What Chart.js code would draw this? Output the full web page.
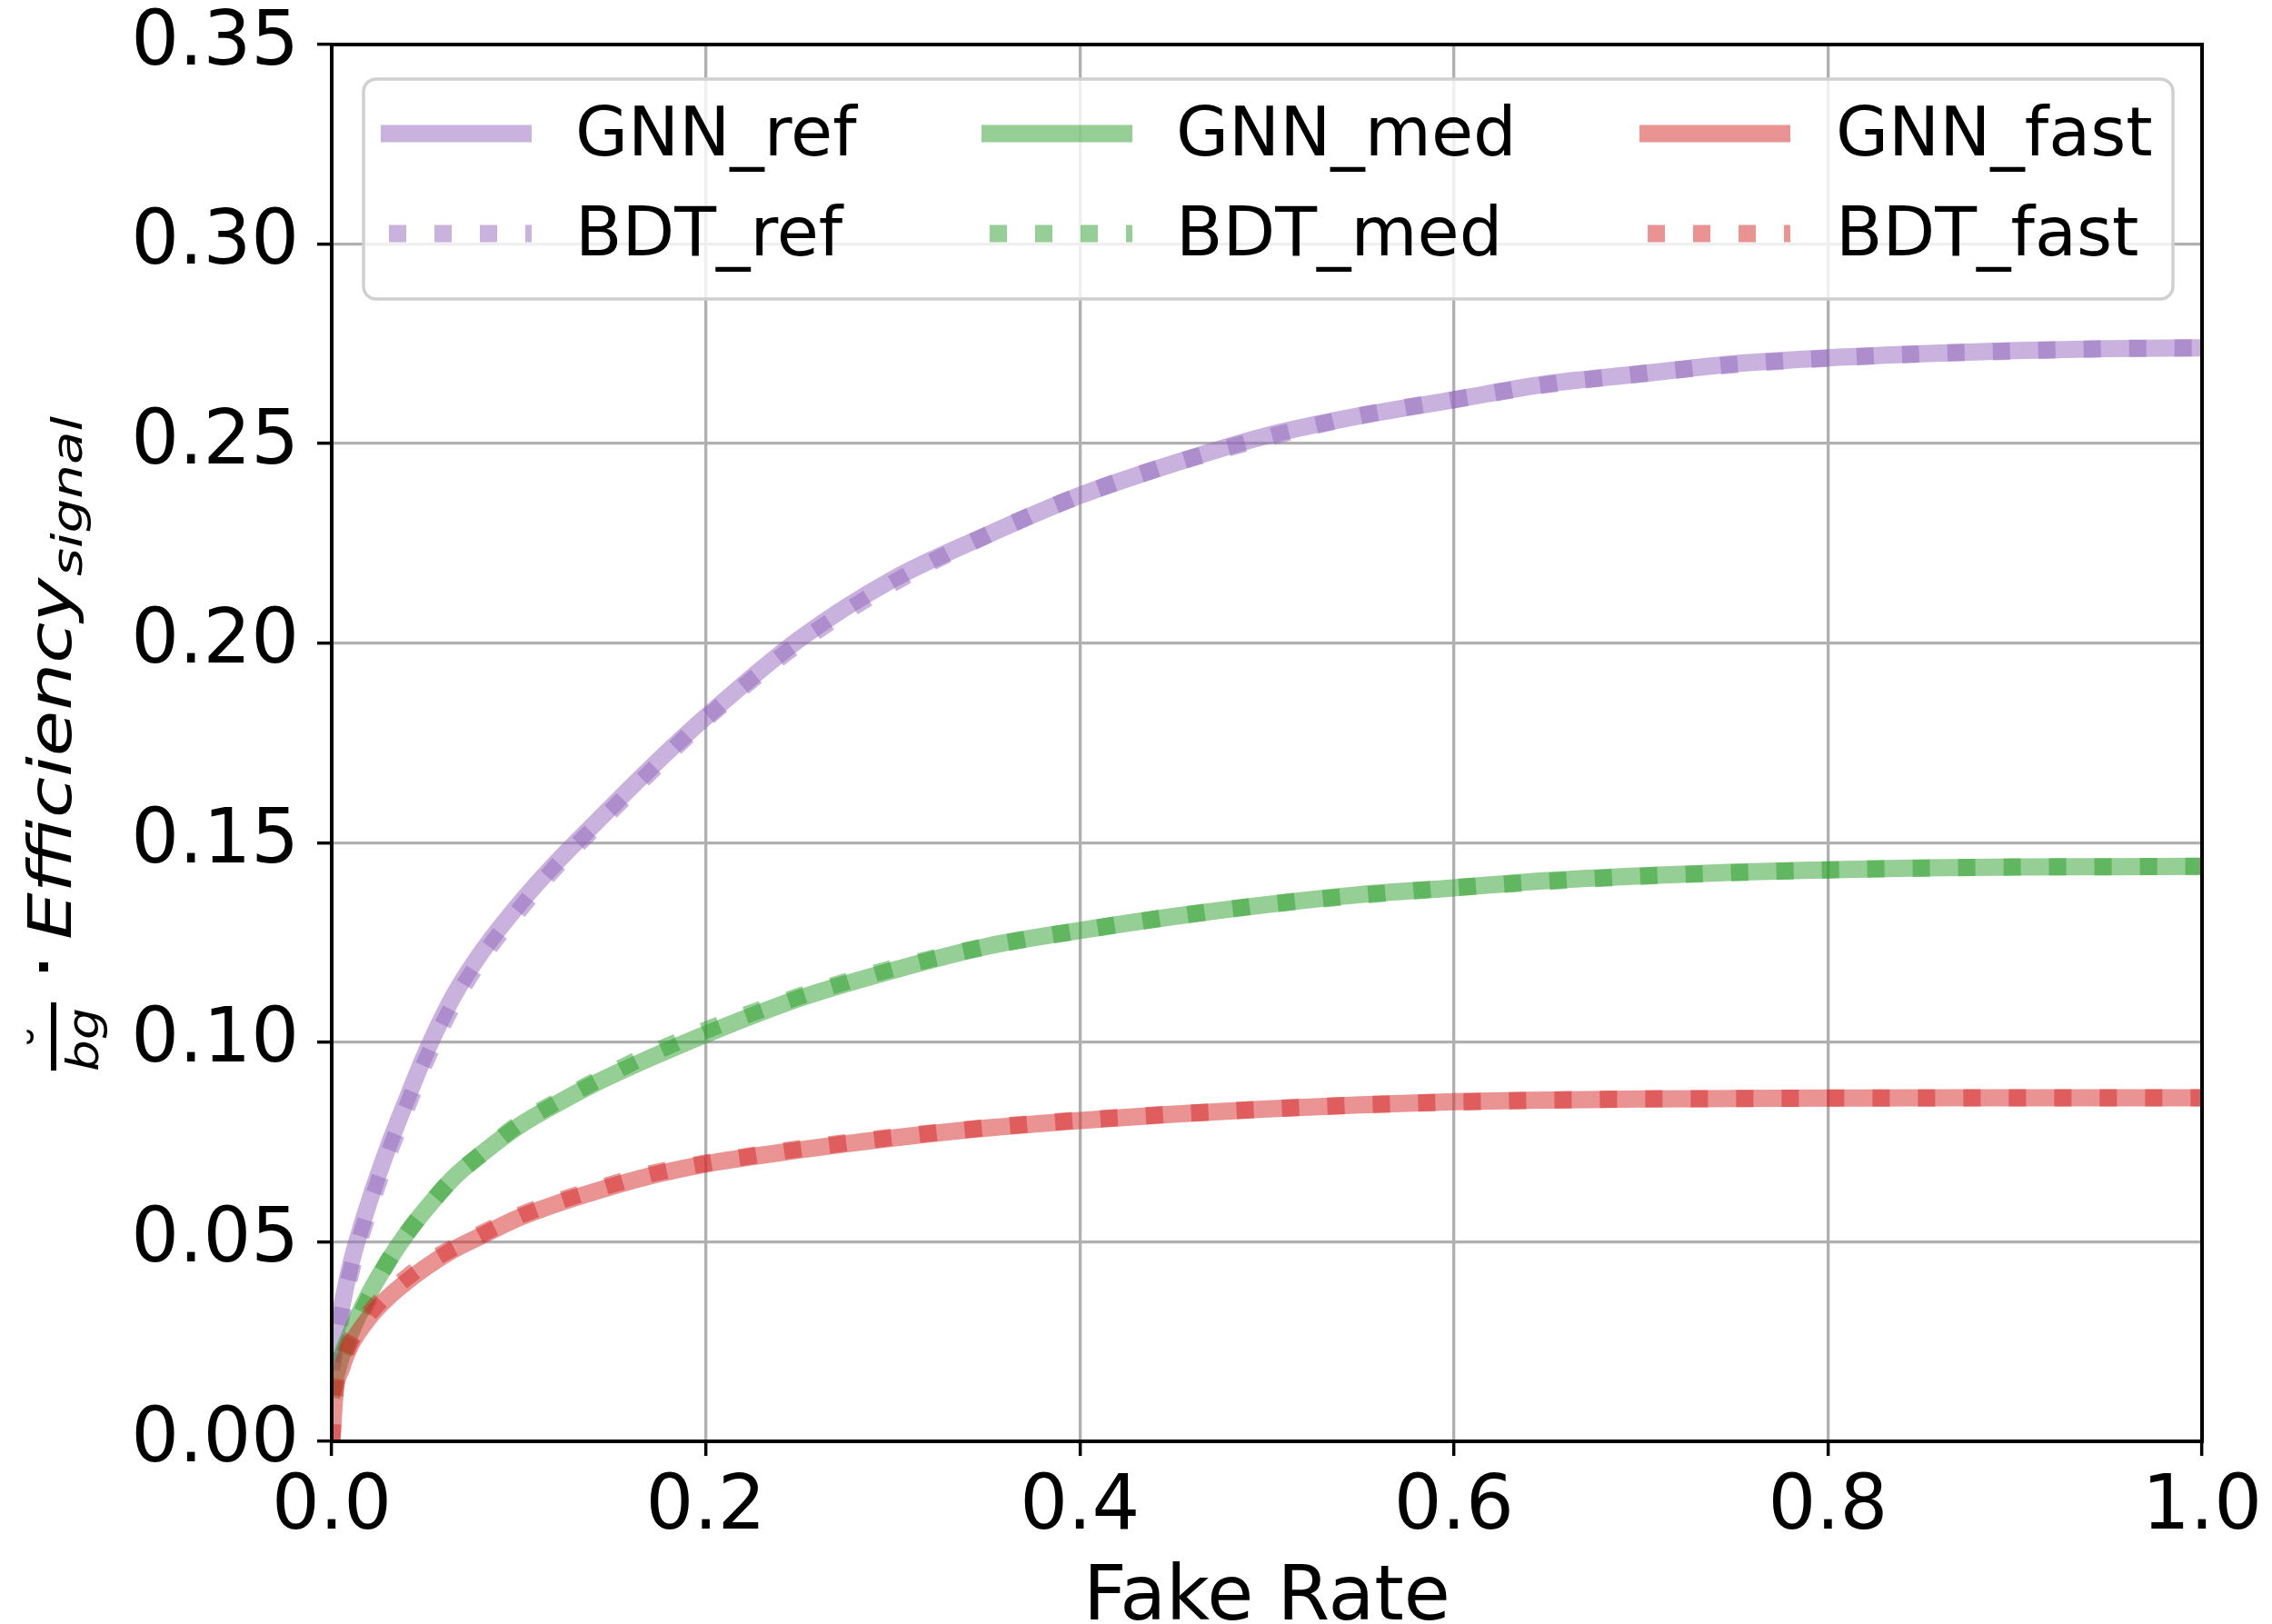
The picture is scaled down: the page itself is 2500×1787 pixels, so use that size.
<!DOCTYPE html>
<html>
<head>
<meta charset="utf-8">
<script src="https://cdn.jsdelivr.net/npm/chart.js@4.4.1/dist/chart.umd.min.js"></script>
<style>
html,body{margin:0;padding:0;background:#fff;}
#wrap{width:2500px;height:1787px;}
</style>
</head>
<body>
<div id="wrap"><canvas id="effChart" width="2500" height="1787"></canvas></div>
<script>
// данные кривых

const fakeRate = [0, 0.002, 0.005, 0.01, 0.02, 0.03, 0.04, 0.05, 0.065, 0.08, 0.1, 0.12, 0.14, 0.17, 0.2, 0.25, 0.3, 0.35, 0.4, 0.45, 0.5, 0.55, 0.6, 0.65, 0.7, 0.75, 0.8, 0.85, 0.9, 0.95, 1.0]

const gnnRef  = [0.020, 0.026, 0.033, 0.044, 0.060, 0.0735, 0.0855, 0.097, 0.1115, 0.1225, 0.1345, 0.145, 0.1545, 0.1685, 0.1815, 0.201, 0.216, 0.227, 0.237, 0.245, 0.252, 0.257, 0.261, 0.265, 0.2675, 0.270, 0.2715, 0.2725, 0.2733, 0.2738, 0.274]
const bdtRef  = [0.018, 0.024, 0.031, 0.042, 0.058, 0.0715, 0.0835, 0.095, 0.1095, 0.121, 0.133, 0.144, 0.1535, 0.1675, 0.181, 0.2, 0.215, 0.227, 0.237, 0.245, 0.2515, 0.257, 0.261, 0.2648, 0.2675, 0.2698, 0.2714, 0.2725, 0.2732, 0.2738, 0.274]

const gnnMed  = [0.012, 0.016, 0.021, 0.027, 0.037, 0.045, 0.052, 0.058, 0.066, 0.072, 0.079, 0.0845, 0.0895, 0.096, 0.102, 0.111, 0.118, 0.124, 0.128, 0.1315, 0.1345, 0.137, 0.1387, 0.1405, 0.1417, 0.1426, 0.1432, 0.1437, 0.1439, 0.144, 0.1441]
const bdtMed  = [0.011, 0.015, 0.020, 0.026, 0.036, 0.045, 0.052, 0.058, 0.066, 0.072, 0.0795, 0.085, 0.090, 0.097, 0.103, 0.1115, 0.1185, 0.124, 0.128, 0.1315, 0.1345, 0.1368, 0.1387, 0.1403, 0.1416, 0.1425, 0.1432, 0.1436, 0.1439, 0.144, 0.1441]

const gnnFast = [0.0, 0.013, 0.018, 0.024, 0.031, 0.036, 0.040, 0.0435, 0.048, 0.0515, 0.056, 0.0595, 0.0625, 0.0665, 0.0695, 0.073, 0.076, 0.0785, 0.0804, 0.082, 0.0833, 0.0843, 0.0851, 0.0855, 0.0858, 0.0859, 0.086, 0.0861, 0.0861, 0.0861, 0.0861]
const bdtFast = [0.0, 0.014, 0.019, 0.025, 0.032, 0.037, 0.041, 0.0445, 0.0485, 0.052, 0.0565, 0.060, 0.063, 0.067, 0.0697, 0.0733, 0.0762, 0.0786, 0.0805, 0.082, 0.0833, 0.0843, 0.085, 0.0855, 0.0858, 0.0859, 0.086, 0.086, 0.0861, 0.0861, 0.0861]

const xTicks = [0, 0.2, 0.4, 0.6, 0.8, 1.0]
const yTicks = [0, 0.05, 0.10, 0.15, 0.20, 0.25, 0.30, 0.35]

const FONT = "DejaVu Sans"
const LW = 19
const DOTS = [19,31]

function pts(arr){
return fakeRate.map((x,i)=>({x:x, y:arr[i]}))
}

function ds(label, arr, color, dotted, order){
return {
label:label,
data:pts(arr),
borderColor:color,
backgroundColor:color,
borderWidth:LW,
borderDash: dotted ? DOTS : [],
borderCapStyle:"butt",
pointRadius:0,
cubicInterpolationMode:"monotone",
fill:false,
clip:0,
order:order
}
}

const PURPLE = "rgba(148,103,189,0.5)"
const GREEN = "rgba(44,160,44,0.5)"
const RED = "rgba(214,39,40,0.5)"

// порядок как в легенде по столбцам
const datasets = [
ds("GNN_ref", gnnRef, PURPLE, false, 6),
ds("BDT_ref", bdtRef, PURPLE, true, 5),
ds("GNN_med", gnnMed, GREEN, false, 4),
ds("BDT_med", bdtMed, GREEN, true, 3),
ds("GNN_fast", gnnFast, RED, false, 2),
ds("BDT_fast", bdtFast, RED, true, 1)
]

// рамка вокруг области графика
const framePlugin = {
id:"frame",
afterDatasetsDraw(chart){
const {ctx, chartArea:a} = chart
ctx.save()
ctx.strokeStyle = "#000"
ctx.lineWidth = 4
ctx.strokeRect(a.left, a.top, a.right-a.left, a.bottom-a.top)
ctx.restore()
}
}

// легенда 3 столбца x 2 строки
const legendPlugin = {
id:"boxLegend",
afterDraw(chart){
const ctx = chart.ctx
const box = {x:400, y:87, w:1991, h:242, r:14}
ctx.save()
ctx.beginPath()
ctx.roundRect(box.x, box.y, box.w, box.h, box.r)
ctx.fillStyle = "rgba(255,255,255,0.8)"
ctx.fill()
ctx.strokeStyle = "#d0d0d0"
ctx.lineWidth = 3.5
ctx.stroke()

const lineX = [419, 1080, 1804]
const textX = [633, 1294, 2020]
const rowY = [147, 257]
ctx.font = "75px '" + FONT + "'"
ctx.textBaseline = "middle"
ctx.textAlign = "left"
chart.data.datasets.forEach((d,i)=>{
const col = Math.floor(i/2)
const row = i % 2
const y = rowY[row]
ctx.beginPath()
ctx.strokeStyle = d.borderColor
ctx.lineWidth = LW
ctx.lineCap = "butt"
ctx.setLineDash(d.borderDash)
ctx.lineDashOffset = 41
ctx.moveTo(lineX[col], y)
ctx.lineTo(lineX[col]+166, y)
ctx.stroke()
ctx.setLineDash([])
ctx.fillStyle = "#000"
ctx.fillText(d.label, textX[col], y+5)
})
ctx.restore()
}
}

// подпись оси y (формула рисуем по кускам)
function rotText(ctx, txt, bx, sy, font, targetLen){
ctx.save()
ctx.translate(bx, sy)
ctx.rotate(-Math.PI/2)
ctx.font = font
ctx.textAlign = "left"
ctx.textBaseline = "alphabetic"
if(targetLen){
const w = ctx.measureText(txt).width
ctx.scale(targetLen/w, 1)
}
ctx.fillText(txt, 0, 0)
ctx.restore()
}

const yLabelPlugin = {
id:"yLabel",
afterDraw(chart){
const ctx = chart.ctx
ctx.save()
ctx.fillStyle = "#000"
// дробь
ctx.fillRect(56, 1103, 6, 75)
rotText(ctx, "bg", 108, 1179, "italic 48px '" + FONT + "'", 70)
ctx.save()
ctx.translate(70, 1141)
ctx.rotate(-Math.PI/2)
ctx.font = "52px '" + FONT + "'"
ctx.textAlign = "center"
ctx.fillText("\u02D8", 0, 0)
ctx.restore()
// точка
ctx.fillRect(43, 1059, 10, 10)
rotText(ctx, "Efficiency", 78, 1034, "italic 66px '" + FONT + "'", 398)
rotText(ctx, "signal", 90, 634, "italic 46px '" + FONT + "'", 176)
ctx.restore()
}
}

new Chart(document.getElementById("effChart"),{
type:"line",
data:{datasets:datasets},
options:{
responsive:false,
animation:false,
devicePixelRatio:1,
layout:{padding:{left:0, right:77, top:49, bottom:0}},
plugins:{
legend:{display:false},
tooltip:{enabled:false}
},
scales:{
x:{
type:"linear",
min:0,
max:1,
afterBuildTicks(s){ s.ticks = xTicks.map(v=>({value:v})) },
afterFit(s){ s.height = 201 },
ticks:{
callback:v=>v.toFixed(1),
font:{family:FONT, size:83, lineHeight:1.265},
color:"#000",
padding:6,
maxRotation:0,
autoSkip:false
},
grid:{color:"#b0b0b0", lineWidth:3.3, tickLength:16, tickColor:"#000", tickWidth:3.5},
border:{color:"#000", width:4},
title:{display:true, text:"Fake Rate", color:"#000", font:{family:FONT, size:83, lineHeight:0.65}, padding:{top:0, bottom:0}}
},
y:{
type:"linear",
min:0,
max:0.35,
afterBuildTicks(s){ s.ticks = yTicks.map(v=>({value:v})) },
afterFit(s){ s.width = 365 },
ticks:{
callback:v=>v.toFixed(2),
font:{family:FONT, size:83, lineHeight:0.6},
color:"#000",
padding:20
},
grid:{color:"#b0b0b0", lineWidth:3.3, tickLength:16, tickColor:"#000", tickWidth:3.5},
border:{color:"#000", width:4}
}
}
},
plugins:[framePlugin, yLabelPlugin, legendPlugin]
})
</script>
</body>
</html>
